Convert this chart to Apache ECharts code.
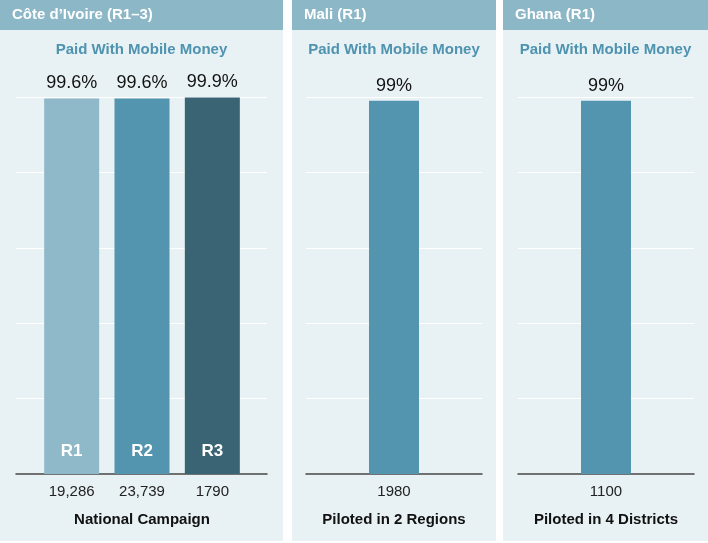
<!DOCTYPE html>
<html>
<head>
<meta charset="utf-8">
<script src="https://cdn.jsdelivr.net/npm/echarts@6/dist/echarts.min.js"></script>
<style>
  html, body { margin: 0; padding: 0; background: #fff; }
  #main { width: 708px; height: 543px; }
</style>
</head>
<body>
<div id="main"></div>
<script>
// data
var panelNames = ['Côte d’Ivoire (R1–3)', 'Mali (R1)', 'Ghana (R1)'];
var subTitle = 'Paid With Mobile Money';
var campaignTypes = ['National Campaign', 'Piloted in 2 Regions', 'Piloted in 4 Districts'];
var civRounds = ['R1', 'R2', 'R3'];
var civCounts = ['19,286', '23,739', '1790'];
var civValues = [99.6, 99.6, 99.9];
var maliCounts = ['1980'];
var maliValues = [99];
var ghanaCounts = ['1100'];
var ghanaValues = [99];
var yTicks = { min: 0, max: 100, interval: 20 };

var font = 'Liberation Sans, Arial, sans-serif';
var roundColors = ['#8fb9c9', '#5394ae', '#3a6474'];
var panels = [[0, 283], [292, 496], [503, 708]];

var chart = echarts.init(document.getElementById('main'));

var graphics = [];
panels.forEach(function (p, i) {
  graphics.push({ type: 'rect', z: -10, shape: { x: p[0], y: 0, width: p[1] - p[0], height: 541 }, style: { fill: '#e8f1f4' } });
  graphics.push({ type: 'rect', z: -9, shape: { x: p[0], y: 0, width: p[1] - p[0], height: 30 }, style: { fill: '#8cb7c7' } });
  graphics.push({ type: 'text', z: 10, x: p[0] + 12, y: 15, style: { text: panelNames[i], fill: '#fff', font: 'bold 15px ' + font, textVerticalAlign: 'middle' } });
  graphics.push({ type: 'text', z: 10, x: (p[0] + p[1]) / 2, y: 50, style: { text: subTitle, fill: '#4e93af', font: 'bold 15px ' + font, textAlign: 'center', textVerticalAlign: 'middle' } });
});

function bgY(idx) {
  return {
    gridIndex: idx, type: 'value', min: yTicks.min, max: yTicks.max, interval: yTicks.interval,
    axisLine: { show: false }, axisTick: { show: false }, axisLabel: { show: false },
    splitLine: { show: true, lineStyle: { color: '#ffffff', width: 1 } }
  };
}
function catX(idx, data, name, showLine) {
  return {
    gridIndex: idx, type: 'category', data: data,
    axisLine: { show: showLine, lineStyle: { color: '#444', width: 1.5 } },
    axisTick: { show: false },
    axisLabel: { show: data.length > 0 && data[0] !== '', color: '#222', fontSize: 15, fontFamily: font, margin: 10 },
    name: name, nameLocation: 'middle', nameGap: 38,
    nameTextStyle: { color: '#111', fontSize: 15, fontWeight: 'bold', fontFamily: font }
  };
}
var pctLabel = {
  show: true, position: 'top', distance: 6, color: '#111', fontSize: 18, fontFamily: font,
  formatter: function (p) { return p.value + '%'; }
};

var option = {
  animation: false,
  graphic: graphics,
  grid: [
    { left: 16, width: 251, top: 97, height: 377 },
    { left: 36.5, width: 211, top: 97, height: 377 },
    { left: 306, width: 176, top: 97, height: 377 },
    { left: 518, width: 176, top: 97, height: 377 }
  ],
  xAxis: [
    catX(0, [''], '', true),
    catX(1, civCounts, campaignTypes[0], false),
    catX(2, maliCounts, campaignTypes[1], true),
    catX(3, ghanaCounts, campaignTypes[2], true)
  ],
  yAxis: [
    bgY(0),
    { gridIndex: 1, type: 'value', min: yTicks.min, max: yTicks.max, show: false },
    bgY(2),
    bgY(3)
  ],
  series: [
    {
      type: 'bar', xAxisIndex: 1, yAxisIndex: 1, barWidth: 55,
      data: civValues.map(function (v, i) { return { value: v, itemStyle: { color: roundColors[i] } }; }),
      label: pctLabel
    },
    {
      type: 'bar', xAxisIndex: 1, yAxisIndex: 1, barWidth: 55, barGap: '-100%',
      data: civValues, itemStyle: { color: 'rgba(0,0,0,0)' }, silent: true,
      label: {
        show: true, position: 'insideBottom', distance: 14, color: '#fff', fontSize: 17,
        fontWeight: 'bold', fontFamily: font,
        formatter: function (p) { return civRounds[p.dataIndex]; }
      }
    },
    {
      type: 'bar', xAxisIndex: 2, yAxisIndex: 2, barWidth: 50,
      data: maliValues, itemStyle: { color: roundColors[1] }, label: pctLabel
    },
    {
      type: 'bar', xAxisIndex: 3, yAxisIndex: 3, barWidth: 50,
      data: ghanaValues, itemStyle: { color: roundColors[1] }, label: pctLabel
    }
  ]
};
chart.setOption(option);
</script>
</body>
</html>
